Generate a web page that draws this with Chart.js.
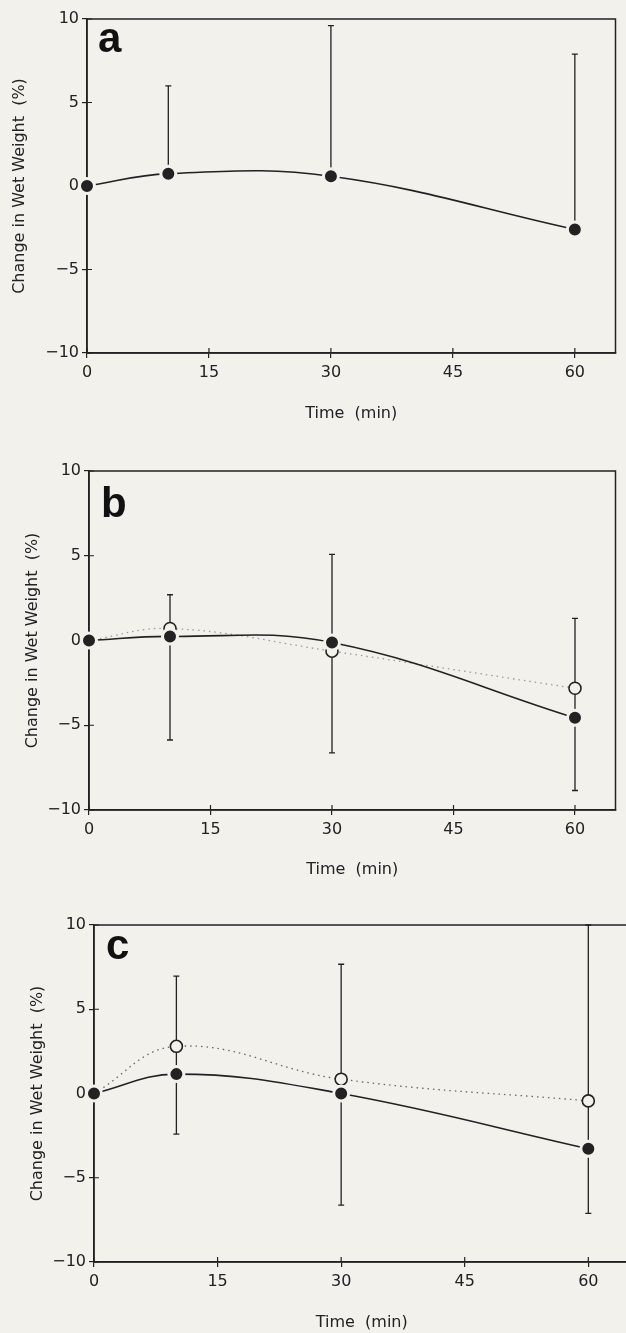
<!DOCTYPE html>
<html>
<head>
<meta charset="utf-8">
<script src="https://cdn.jsdelivr.net/npm/chart.js@4.4.1/dist/chart.umd.min.js"></script>
<style>
  html, body { margin: 0; padding: 0; background: #f3f1ec; }
  body { position: relative; width: 626px; height: 1333px; overflow: hidden; }
  canvas { position: absolute; left: 0; }
  .lbl { position: absolute; font: bold 42px "Liberation Sans", Arial, sans-serif; color: #111; line-height: 1; }
</style>
</head>
<body>
<canvas id="panelA" width="626" height="427" style="top:0px"></canvas>
<canvas id="panelB" width="626" height="443" style="top:440px"></canvas>
<canvas id="panelC" width="640" height="453" style="top:883px"></canvas>
<div class="lbl" style="left:98px;top:17px">a</div>
<div class="lbl" style="left:101px;top:482px">b</div>
<div class="lbl" style="left:106px;top:924px">c</div>

<script>
// shared axes
const times = [0, 10, 30, 60];
const xTicks = [0, 15, 30, 45, 60];
const xTickLabels = ['0', '15', '30', '45', '60'];
const yTicks = [-10, -5, 0, 5, 10];
const yTickLabels = ['\u221210', '\u22125', '0', '5', '10'];
const xTitle = 'Time  (min)';
const yTitle = 'Change in Wet Weight  (%)';

// panel a
const aFilled = [0, 0.74, 0.58, -2.6];
const aErrHigh = [null, 6.0, 9.6, 7.9];
const aErrLow = [null, null, null, null];

// panel b
const bFilled = [0, 0.24, -0.12, -4.56];
const bOpen = [0, 0.71, -0.63, -2.82];
const bErrHigh = [null, 2.7, 5.08, 1.31];
const bErrLow = [null, -5.87, -6.63, -8.85];

// panel c
const cFilled = [0, 1.15, 0, -3.28];
const cOpen = [0, 2.8, 0.85, -0.44];
const cErrHigh = [null, 6.96, 7.67, 10];
const cErrLow = [null, -2.41, -6.63, -7.12];

const ink = '#222';
const bg = '#f3f1ec';
const family = '"DejaVu Sans", sans-serif';

function framePlugin(errLow, errHigh, base) {
    return {
        id: 'frameAndBars',
        beforeDatasetsDraw(chart) {
            const { ctx, chartArea: a, scales: { x, y } } = chart;
            ctx.save();
            ctx.strokeStyle = ink;
            ctx.lineWidth = 1.5;
            ctx.strokeRect(a.left, a.top, a.right - a.left, a.bottom - a.top);

            // tick marks also reach into the plot
            ctx.lineWidth = 1.2;
            ctx.beginPath();
            xTicks.forEach(v => {
                const px = x.getPixelForValue(v);
                ctx.moveTo(px, a.bottom);
                ctx.lineTo(px, a.bottom - 5);
            });
            yTicks.forEach(v => {
                const py = y.getPixelForValue(v);
                ctx.moveTo(a.left, py);
                ctx.lineTo(a.left + 5, py);
            });
            ctx.stroke();

            // error bars
            ctx.lineWidth = 1.3;
            times.forEach((t, i) => {
                if (errHigh[i] == null) return;
                const px = x.getPixelForValue(t);
                const top = y.getPixelForValue(errHigh[i]);
                const hasLow = errLow[i] != null;
                const bot = y.getPixelForValue(hasLow ? errLow[i] : base[i]);
                ctx.beginPath();
                ctx.moveTo(px, top);
                ctx.lineTo(px, bot);
                ctx.moveTo(px - 3, top);
                ctx.lineTo(px + 3, top);
                if (hasLow) {
                    ctx.moveTo(px - 3, bot);
                    ctx.lineTo(px + 3, bot);
                }
                ctx.stroke();
            });
            ctx.restore();
        }
    };
}

function makePanel(id, filled, open, errLow, errHigh, g) {
    const datasets = [{
        data: times.map((t, i) => ({ x: t, y: filled[i] })),
        borderColor: ink,
        borderWidth: 1.6,
        tension: 0.4,
        pointRadius: 7.5,
        pointBorderWidth: 3,
        pointBackgroundColor: ink,
        pointBorderColor: bg,
        clip: false,
        order: 0
    }];
    if (open) {
        datasets.push({
            data: times.map((t, i) => ({ x: t, y: open[i] })),
            borderColor: g.dotColor,
            borderWidth: 1.3,
            borderDash: [1.5, 4],
            tension: 0.4,
            pointRadius: [0, 6, 6, 6],
            pointBorderWidth: 1.6,
            pointBackgroundColor: bg,
            pointBorderColor: ink,
            clip: false,
            order: 1
        });
    }

    new Chart(document.getElementById(id), {
        type: 'line',
        data: { datasets },
        plugins: [framePlugin(errLow, errHigh, filled)],
        options: {
            responsive: false,
            animation: false,
            devicePixelRatio: 1,
            layout: { padding: { top: g.top, right: g.right, left: 0, bottom: 0 } },
            plugins: { legend: { display: false }, tooltip: { enabled: false } },
            scales: {
                x: {
                    type: 'linear',
                    min: 0,
                    max: 65,
                    afterBuildTicks: s => { s.ticks = xTicks.map(v => ({ value: v })); },
                    afterFit: s => { s.height = g.xH; },
                    grid: { drawOnChartArea: false, tickLength: 5, color: ink, lineWidth: 1.2 },
                    border: { color: ink, width: 1.5 },
                    ticks: {
                        color: ink, padding: 5, maxRotation: 0, autoSkip: false,
                        font: { family, size: 16 },
                        callback: (v, i) => xTickLabels[i]
                    },
                    title: {
                        display: true, text: xTitle, color: ink,
                        font: { family, size: 16 },
                        padding: { top: 0, bottom: 4 }
                    }
                },
                y: {
                    type: 'linear',
                    min: -10,
                    max: 10,
                    afterBuildTicks: s => { s.ticks = yTicks.map(v => ({ value: v })); },
                    afterFit: s => { s.width = g.yW; },
                    grid: { drawOnChartArea: false, tickLength: 5, color: ink, lineWidth: 1.2 },
                    border: { color: ink, width: 1.5 },
                    ticks: {
                        color: ink, padding: 3, autoSkip: false,
                        font: { family, size: 16 },
                        callback: (v, i) => yTickLabels[i]
                    },
                    title: {
                        display: true, text: yTitle, color: ink,
                        font: { family, size: 16 },
                        padding: { top: g.yTitlePad, bottom: 0 }
                    }
                }
            }
        }
    });
}

makePanel('panelA', aFilled, null, aErrLow, aErrHigh, { top: 19, right: 3, yW: 87, xH: 74, yTitlePad: 10 });
makePanel('panelB', bFilled, bOpen, bErrLow, bErrHigh, { top: 31, right: 2, yW: 89, xH: 73, yTitlePad: 23, dotColor: '#999' });
makePanel('panelC', cFilled, cOpen, cErrLow, cErrHigh, { top: 42, right: 10, yW: 94, xH: 74, yTitlePad: 28, dotColor: '#666' });
</script>
</body>
</html>
